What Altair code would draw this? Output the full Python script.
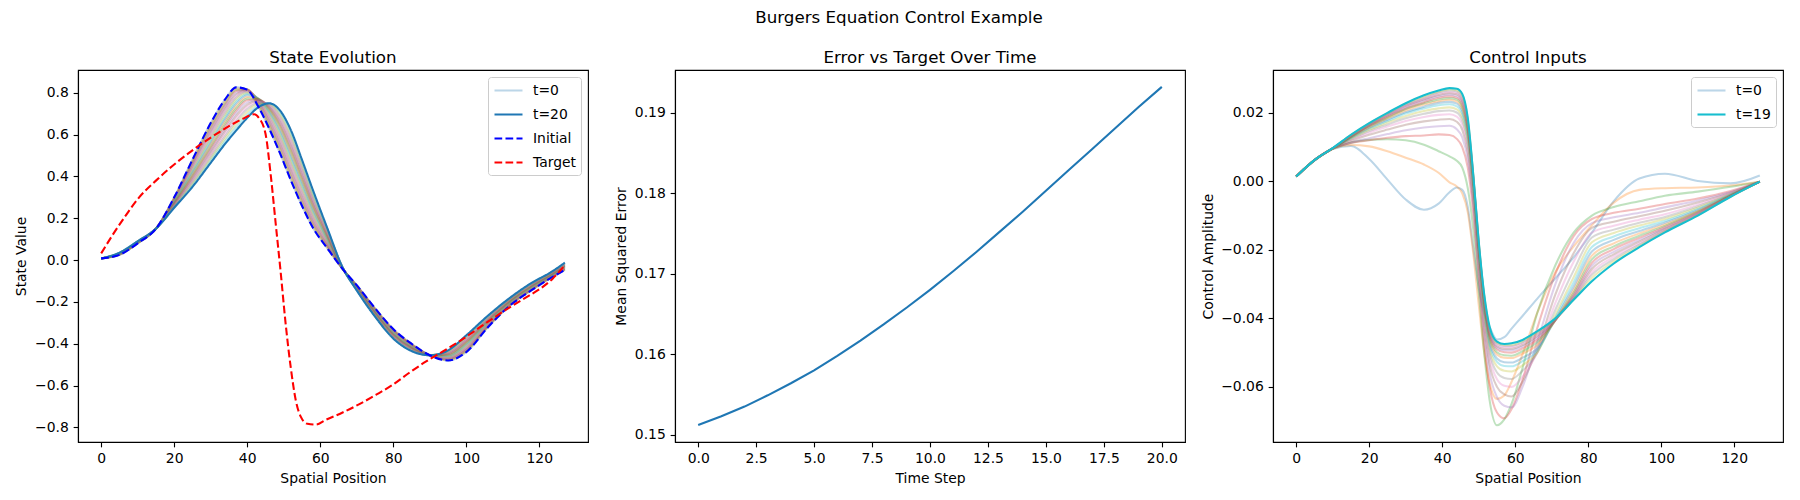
import altair as alt
import pandas as pd

FONT = "DejaVu Sans"
TAB10 = ["#1f77b4", "#ff7f0e", "#2ca02c", "#d62728", "#9467bd",
         "#8c564b", "#e377c2", "#7f7f7f", "#bcbd22", "#17becf"]

# ---------------- Panel 1: state evolution ----------------
X_STATE = [0, 5, 10, 15, 20, 25, 30, 34, 37, 40, 43, 46, 49, 52, 55, 58, 62, 66,
           70, 75, 80, 85, 90, 95, 100, 106, 112, 118, 123, 127]
STATE_T0 = [0.008, 0.025, 0.080, 0.150, 0.300, 0.480, 0.655, 0.770, 0.826, 0.815,
            0.735, 0.630, 0.510, 0.380, 0.260, 0.155, 0.055, -0.040, -0.120, -0.230,
            -0.330, -0.400, -0.455, -0.480, -0.440, -0.320, -0.217, -0.143, -0.087, -0.047]
STATE_T20 = [0.008, 0.035, 0.090, 0.150, 0.250, 0.350, 0.465, 0.557, 0.620, 0.680,
             0.730, 0.750, 0.715, 0.620, 0.480, 0.335, 0.150, -0.030, -0.145, -0.270,
             -0.375, -0.435, -0.455, -0.432, -0.360, -0.265, -0.180, -0.108, -0.060, -0.0125]
STATE_MID = [  # t = 1 .. 19
    [0.008, 0.026, 0.081, 0.150, 0.298, 0.474, 0.646, 0.761, 0.820, 0.816, 0.742, 0.641, 0.522, 0.392, 0.271, 0.164, 0.060, -0.040, -0.121, -0.232, -0.332, -0.402, -0.455, -0.478, -0.436, -0.317, -0.215, -0.141, -0.086, -0.045],
    [0.008, 0.026, 0.081, 0.150, 0.295, 0.467, 0.636, 0.752, 0.814, 0.816, 0.749, 0.651, 0.534, 0.404, 0.282, 0.173, 0.065, -0.039, -0.123, -0.234, -0.335, -0.404, -0.455, -0.475, -0.432, -0.315, -0.213, -0.140, -0.084, -0.044],
    [0.008, 0.027, 0.082, 0.150, 0.293, 0.461, 0.627, 0.743, 0.808, 0.815, 0.755, 0.661, 0.546, 0.416, 0.293, 0.181, 0.069, -0.039, -0.124, -0.236, -0.337, -0.405, -0.455, -0.473, -0.428, -0.312, -0.211, -0.138, -0.083, -0.042],
    [0.008, 0.027, 0.082, 0.150, 0.290, 0.454, 0.617, 0.734, 0.801, 0.814, 0.760, 0.670, 0.557, 0.428, 0.304, 0.190, 0.074, -0.038, -0.125, -0.238, -0.339, -0.407, -0.455, -0.470, -0.424, -0.309, -0.210, -0.136, -0.082, -0.040],
    [0.008, 0.028, 0.083, 0.150, 0.288, 0.448, 0.608, 0.724, 0.793, 0.811, 0.764, 0.679, 0.569, 0.440, 0.315, 0.199, 0.079, -0.038, -0.126, -0.240, -0.341, -0.409, -0.455, -0.468, -0.420, -0.306, -0.208, -0.134, -0.080, -0.038],
    [0.008, 0.028, 0.083, 0.150, 0.285, 0.441, 0.598, 0.715, 0.785, 0.808, 0.767, 0.687, 0.580, 0.452, 0.326, 0.208, 0.084, -0.037, -0.128, -0.242, -0.344, -0.411, -0.455, -0.466, -0.416, -0.304, -0.206, -0.133, -0.079, -0.037],
    [0.008, 0.029, 0.084, 0.150, 0.283, 0.435, 0.589, 0.705, 0.777, 0.804, 0.770, 0.695, 0.591, 0.464, 0.337, 0.216, 0.088, -0.037, -0.129, -0.244, -0.346, -0.412, -0.455, -0.463, -0.412, -0.301, -0.204, -0.131, -0.078, -0.035],
    [0.008, 0.029, 0.084, 0.150, 0.280, 0.428, 0.579, 0.694, 0.768, 0.799, 0.771, 0.702, 0.602, 0.476, 0.348, 0.225, 0.093, -0.036, -0.130, -0.246, -0.348, -0.414, -0.455, -0.461, -0.408, -0.298, -0.202, -0.129, -0.076, -0.033],
    [0.008, 0.030, 0.085, 0.150, 0.278, 0.422, 0.570, 0.684, 0.758, 0.794, 0.772, 0.709, 0.612, 0.488, 0.359, 0.234, 0.098, -0.036, -0.131, -0.248, -0.350, -0.416, -0.455, -0.458, -0.404, -0.295, -0.200, -0.127, -0.075, -0.031],
    [0.008, 0.030, 0.085, 0.150, 0.275, 0.415, 0.560, 0.674, 0.748, 0.788, 0.773, 0.715, 0.623, 0.500, 0.370, 0.243, 0.103, -0.035, -0.133, -0.250, -0.353, -0.418, -0.455, -0.456, -0.400, -0.293, -0.199, -0.126, -0.074, -0.030],
    [0.008, 0.031, 0.086, 0.150, 0.273, 0.409, 0.551, 0.663, 0.737, 0.780, 0.772, 0.721, 0.633, 0.512, 0.381, 0.251, 0.107, -0.035, -0.134, -0.252, -0.355, -0.419, -0.455, -0.454, -0.396, -0.290, -0.197, -0.124, -0.072, -0.028],
    [0.008, 0.031, 0.086, 0.150, 0.270, 0.402, 0.541, 0.652, 0.726, 0.772, 0.770, 0.726, 0.643, 0.524, 0.392, 0.260, 0.112, -0.034, -0.135, -0.254, -0.357, -0.421, -0.455, -0.451, -0.392, -0.287, -0.195, -0.122, -0.071, -0.026],
    [0.008, 0.032, 0.087, 0.150, 0.268, 0.396, 0.532, 0.641, 0.715, 0.764, 0.768, 0.731, 0.652, 0.536, 0.403, 0.269, 0.117, -0.034, -0.136, -0.256, -0.359, -0.423, -0.455, -0.449, -0.388, -0.284, -0.193, -0.120, -0.069, -0.025],
    [0.008, 0.032, 0.087, 0.150, 0.265, 0.389, 0.522, 0.629, 0.703, 0.754, 0.765, 0.735, 0.662, 0.548, 0.414, 0.278, 0.122, -0.033, -0.138, -0.258, -0.362, -0.425, -0.455, -0.446, -0.384, -0.282, -0.191, -0.119, -0.068, -0.023],
    [0.008, 0.033, 0.088, 0.150, 0.263, 0.383, 0.513, 0.618, 0.690, 0.744, 0.761, 0.739, 0.671, 0.560, 0.425, 0.286, 0.126, -0.033, -0.139, -0.260, -0.364, -0.426, -0.455, -0.444, -0.380, -0.279, -0.189, -0.117, -0.067, -0.021],
    [0.008, 0.033, 0.088, 0.150, 0.260, 0.376, 0.503, 0.606, 0.677, 0.733, 0.757, 0.742, 0.680, 0.572, 0.436, 0.295, 0.131, -0.032, -0.140, -0.262, -0.366, -0.428, -0.455, -0.442, -0.376, -0.276, -0.187, -0.115, -0.065, -0.019],
    [0.008, 0.034, 0.089, 0.150, 0.258, 0.370, 0.494, 0.594, 0.664, 0.721, 0.751, 0.745, 0.689, 0.584, 0.447, 0.304, 0.136, -0.032, -0.141, -0.264, -0.368, -0.430, -0.455, -0.439, -0.372, -0.273, -0.186, -0.113, -0.064, -0.018],
    [0.008, 0.034, 0.089, 0.150, 0.255, 0.363, 0.484, 0.582, 0.650, 0.708, 0.745, 0.747, 0.698, 0.596, 0.458, 0.313, 0.141, -0.031, -0.143, -0.266, -0.371, -0.432, -0.455, -0.437, -0.368, -0.271, -0.184, -0.112, -0.063, -0.016],
    [0.008, 0.035, 0.090, 0.150, 0.253, 0.357, 0.475, 0.570, 0.635, 0.694, 0.738, 0.749, 0.707, 0.608, 0.469, 0.321, 0.145, -0.031, -0.144, -0.268, -0.373, -0.433, -0.455, -0.434, -0.364, -0.268, -0.182, -0.110, -0.061, -0.014],
]
X_TARGET = [0, 3.5, 7, 10.4, 15, 19.5, 25, 29.5, 34, 38.7, 41.9, 43.2, 45, 46.4, 47.8,
            49.2, 50.5, 51.9, 53.3, 54.7, 56.5, 58.8, 61.5, 66, 70.6, 75.2, 79.8, 84.3,
            88.9, 93.5, 98, 102.6, 107.2, 111.7, 117.2, 120, 123.6, 127]
TARGET = [0.032, 0.13, 0.22, 0.30, 0.38, 0.45, 0.525, 0.58, 0.63, 0.675, 0.697, 0.68,
          0.605, 0.414, 0.175, -0.064, -0.30, -0.51, -0.67, -0.75, -0.783, -0.787, -0.764,
          -0.73, -0.69, -0.645, -0.597, -0.54, -0.486, -0.438, -0.39, -0.335, -0.28,
          -0.228, -0.17, -0.14, -0.09, -0.025]

# ---------------- Panel 2: error over time ----------------
MSE_STEPS = list(range(21))
MSE = [0.1512, 0.1523, 0.1535, 0.1549, 0.1564, 0.1580, 0.1598, 0.1617, 0.1637, 0.1658,
       0.1680, 0.1703, 0.1727, 0.1752, 0.1777, 0.1803, 0.1829, 0.1855, 0.1881, 0.1907,
       0.1932]

# ---------------- Panel 3: control inputs ----------------
X_CONTROL = [0, 5, 10, 15, 20, 25, 30, 35, 39, 42, 44, 45.5, 47, 48.5, 50, 51.5, 53, 55,
             57, 59, 62, 66, 71, 76, 81, 87, 94, 101, 110, 119, 127]
CONTROL = [  # t = 0 .. 19
    [0.0014, 0.0060, 0.0094, 0.0103, 0.0065, 0.0005, -0.0053, -0.0083, -0.0065, -0.0032, -0.0018, -0.0025, -0.0075, -0.0195, -0.0310, -0.0385, -0.0425, -0.0462, -0.0455, -0.0430, -0.0393, -0.0343, -0.0283, -0.0222, -0.0150, -0.0058, 0.0008, 0.0022, 0.0001, -0.0006, 0.0017],
    [0.0014, 0.0061, 0.0095, 0.0106, 0.0102, 0.0088, 0.0069, 0.0049, 0.0025, -0.0003, -0.0015, -0.0035, -0.0090, -0.0210, -0.0360, -0.0500, -0.0590, -0.0635, -0.0625, -0.0585, -0.0505, -0.0385, -0.0265, -0.0190, -0.0128, -0.0062, -0.0025, -0.0020, -0.0018, -0.0012, -0.0001],
    [0.0014, 0.0061, 0.0095, 0.0113, 0.0121, 0.0123, 0.0120, 0.0107, 0.0088, 0.0073, 0.0060, 0.0040, -0.0020, -0.0140, -0.0320, -0.0500, -0.0640, -0.0712, -0.0695, -0.0650, -0.0545, -0.0385, -0.0245, -0.0150, -0.0100, -0.0075, -0.0058, -0.0042, -0.0030, -0.0016, -0.0001],
    [0.0014, 0.0062, 0.0096, 0.0112, 0.0120, 0.0127, 0.0132, 0.0134, 0.0137, 0.0135, 0.0124, 0.0100, 0.0040, -0.0090, -0.0280, -0.0470, -0.0600, -0.0675, -0.0692, -0.0665, -0.0580, -0.0430, -0.0270, -0.0160, -0.0110, -0.0092, -0.0080, -0.0066, -0.0050, -0.0028, -0.0001],
    [0.0014, 0.0062, 0.0096, 0.0113, 0.0126, 0.0138, 0.0149, 0.0157, 0.0161, 0.0162, 0.0152, 0.0128, 0.0065, -0.0070, -0.0260, -0.0440, -0.0560, -0.0630, -0.0655, -0.0660, -0.0600, -0.0470, -0.0300, -0.0180, -0.0122, -0.0105, -0.0092, -0.0076, -0.0056, -0.0031, -0.0001],
    [0.0014, 0.0062, 0.0096, 0.0118, 0.0136, 0.0151, 0.0165, 0.0175, 0.0180, 0.0182, 0.0174, 0.0150, 0.0085, -0.0055, -0.0245, -0.0420, -0.0535, -0.0600, -0.0622, -0.0628, -0.0585, -0.0490, -0.0330, -0.0210, -0.0136, -0.0118, -0.0102, -0.0086, -0.0062, -0.0033, -0.0001],
    [0.0014, 0.0062, 0.0096, 0.0121, 0.0142, 0.0160, 0.0176, 0.0188, 0.0194, 0.0196, 0.0189, 0.0165, 0.0100, -0.0042, -0.0233, -0.0405, -0.0515, -0.0578, -0.0597, -0.0600, -0.0570, -0.0500, -0.0355, -0.0235, -0.0150, -0.0130, -0.0112, -0.0096, -0.0068, -0.0035, -0.0001],
    [0.0014, 0.0062, 0.0096, 0.0123, 0.0147, 0.0166, 0.0184, 0.0197, 0.0205, 0.0207, 0.0201, 0.0178, 0.0112, -0.0031, -0.0224, -0.0392, -0.0500, -0.0558, -0.0574, -0.0577, -0.0553, -0.0502, -0.0375, -0.0260, -0.0164, -0.0141, -0.0121, -0.0104, -0.0073, -0.0037, -0.0001],
    [0.0014, 0.0062, 0.0096, 0.0125, 0.0151, 0.0172, 0.0191, 0.0205, 0.0213, 0.0216, 0.0210, 0.0188, 0.0122, -0.0022, -0.0216, -0.0382, -0.0488, -0.0540, -0.0553, -0.0555, -0.0537, -0.0500, -0.0390, -0.0280, -0.0178, -0.0151, -0.0129, -0.0110, -0.0077, -0.0038, -0.0001],
    [0.0014, 0.0062, 0.0096, 0.0127, 0.0154, 0.0176, 0.0198, 0.0213, 0.0222, 0.0225, 0.0219, 0.0197, 0.0131, -0.0014, -0.0209, -0.0373, -0.0478, -0.0527, -0.0539, -0.0540, -0.0525, -0.0495, -0.0398, -0.0295, -0.0192, -0.0161, -0.0137, -0.0116, -0.0081, -0.0039, -0.0001],
    [0.0014, 0.0062, 0.0096, 0.0128, 0.0157, 0.0180, 0.0202, 0.0218, 0.0229, 0.0232, 0.0227, 0.0205, 0.0139, -0.0007, -0.0203, -0.0366, -0.0470, -0.0517, -0.0528, -0.0529, -0.0515, -0.0488, -0.0403, -0.0308, -0.0205, -0.0171, -0.0145, -0.0121, -0.0084, -0.0040, -0.0001],
    [0.0014, 0.0062, 0.0096, 0.0129, 0.0158, 0.0184, 0.0207, 0.0224, 0.0234, 0.0238, 0.0233, 0.0212, 0.0146, -0.0001, -0.0198, -0.0360, -0.0462, -0.0506, -0.0515, -0.0516, -0.0503, -0.0478, -0.0405, -0.0318, -0.0217, -0.0181, -0.0152, -0.0126, -0.0087, -0.0041, -0.0001],
    [0.0014, 0.0062, 0.0096, 0.0130, 0.0161, 0.0186, 0.0211, 0.0228, 0.0239, 0.0243, 0.0239, 0.0218, 0.0152, 0.0004, -0.0194, -0.0354, -0.0456, -0.0499, -0.0508, -0.0509, -0.0496, -0.0470, -0.0406, -0.0325, -0.0228, -0.0190, -0.0159, -0.0130, -0.0089, -0.0042, -0.0001],
    [0.0014, 0.0062, 0.0096, 0.0131, 0.0163, 0.0189, 0.0213, 0.0231, 0.0244, 0.0248, 0.0244, 0.0225, 0.0158, 0.0008, -0.0190, -0.0349, -0.0450, -0.0491, -0.0499, -0.0500, -0.0488, -0.0463, -0.0406, -0.0331, -0.0238, -0.0198, -0.0165, -0.0134, -0.0091, -0.0042, -0.0001],
    [0.0014, 0.0062, 0.0096, 0.0132, 0.0164, 0.0192, 0.0217, 0.0236, 0.0248, 0.0253, 0.0249, 0.0231, 0.0163, 0.0011, -0.0187, -0.0345, -0.0445, -0.0486, -0.0493, -0.0493, -0.0482, -0.0457, -0.0405, -0.0335, -0.0247, -0.0206, -0.0171, -0.0137, -0.0093, -0.0043, -0.0001],
    [0.0014, 0.0062, 0.0096, 0.0133, 0.0165, 0.0193, 0.0220, 0.0239, 0.0252, 0.0257, 0.0254, 0.0236, 0.0168, 0.0014, -0.0184, -0.0341, -0.0441, -0.0482, -0.0489, -0.0489, -0.0478, -0.0452, -0.0404, -0.0339, -0.0256, -0.0213, -0.0176, -0.0140, -0.0095, -0.0043, -0.0001],
    [0.0014, 0.0062, 0.0096, 0.0134, 0.0167, 0.0195, 0.0221, 0.0241, 0.0256, 0.0261, 0.0258, 0.0241, 0.0172, 0.0016, -0.0181, -0.0338, -0.0437, -0.0478, -0.0484, -0.0484, -0.0473, -0.0448, -0.0403, -0.0341, -0.0265, -0.0220, -0.0181, -0.0143, -0.0096, -0.0044, -0.0001],
    [0.0014, 0.0062, 0.0096, 0.0135, 0.0167, 0.0197, 0.0224, 0.0245, 0.0259, 0.0265, 0.0262, 0.0246, 0.0176, 0.0018, -0.0179, -0.0335, -0.0433, -0.0474, -0.0480, -0.0480, -0.0470, -0.0444, -0.0402, -0.0343, -0.0273, -0.0227, -0.0185, -0.0145, -0.0097, -0.0044, -0.0001],
    [0.0014, 0.0062, 0.0096, 0.0135, 0.0169, 0.0198, 0.0227, 0.0248, 0.0262, 0.0269, 0.0266, 0.0251, 0.0181, 0.0019, -0.0177, -0.0332, -0.0429, -0.0471, -0.0477, -0.0477, -0.0466, -0.0441, -0.0401, -0.0345, -0.0282, -0.0234, -0.0189, -0.0147, -0.0099, -0.0045, -0.0001],
    [0.0014, 0.0062, 0.0097, 0.0136, 0.0170, 0.0200, 0.0228, 0.0251, 0.0265, 0.0272, 0.0270, 0.0255, 0.0185, 0.0020, -0.0175, -0.0330, -0.0425, -0.0468, -0.0475, -0.0473, -0.0463, -0.0438, -0.0400, -0.0346, -0.0292, -0.0240, -0.0192, -0.0149, -0.0100, -0.0045, -0.0001],
]

# ---------------- styling constants ----------------
LW = 2.08
DASH = [7.7, 3.3]
LIGHT_BLUE = "#bcd6e8"   # tab:blue at alpha 0.3 on white


def series_df(xs, ys, name, t=0, color=None):
    return pd.DataFrame({"x": xs, "v": ys, "series": name, "t": t,
                         "col": color if color else "#000000"})


def legend_obj():
    return alt.Legend(title=None, orient="top-right", offset=7,
                      symbolType="M-1,0H3", symbolSize=196, symbolStrokeWidth=LW,
                      labelFontSize=13.9, labelFont=FONT, labelColor="black",
                      labelOffset=23, rowPadding=8, padding=5,
                      fillColor="rgba(255,255,255,0.8)", strokeColor="#cccccc",
                      cornerRadius=3)


# ---- panel 1 ----
p1_x = alt.X("x:Q", scale=alt.Scale(domain=[-6.35, 133.35], nice=False, zero=False),
             axis=alt.Axis(title="Spatial Position", values=[0, 20, 40, 60, 80, 100, 120], format="d"))
p1_y = alt.Y("v:Q", scale=alt.Scale(domain=[-0.870, 0.909], nice=False, zero=False),
             axis=alt.Axis(title="State Value",
                           values=[-0.8, -0.6, -0.4, -0.2, 0.0, 0.2, 0.4, 0.6, 0.8], format=".1f"))
P1_DOMAIN = ["t=0", "t=20", "Initial", "Target"]
p1_color = alt.Color("series:N", scale=alt.Scale(domain=P1_DOMAIN,
                     range=[LIGHT_BLUE, "#1f77b4", "#0000ff", "#ff0000"]), legend=legend_obj())
p1_dash = alt.StrokeDash("series:N", scale=alt.Scale(domain=P1_DOMAIN,
                         range=[[1, 0], [1, 0], DASH, DASH]), legend=legend_obj())

mid_frames = [series_df(X_STATE, row, "mid", i + 1, TAB10[(i + 1) % 10])
              for i, row in enumerate(STATE_MID)]
state_mid_df = pd.concat(mid_frames, ignore_index=True)


def legend_line(df):
    return alt.Chart(df).mark_line(strokeWidth=LW, interpolate="monotone").encode(
        x=p1_x, y=p1_y, color=p1_color, strokeDash=p1_dash)


l_t0 = legend_line(series_df(X_STATE, STATE_T0, "t=0"))
l_mid = alt.Chart(state_mid_df).mark_line(strokeWidth=LW, opacity=0.3, interpolate="monotone").encode(
    x=p1_x, y=p1_y, stroke=alt.Stroke("col:N", scale=None), detail="t:N")
l_t20 = legend_line(series_df(X_STATE, STATE_T20, "t=20"))
l_init = legend_line(series_df(X_STATE, STATE_T0, "Initial"))
l_targ = legend_line(series_df(X_TARGET, TARGET, "Target"))

panel1 = alt.layer(l_t0, l_mid, l_t20, l_init, l_targ).properties(
    width=510, height=372, title="State Evolution")

# ---- panel 2 ----
mse_df = pd.DataFrame({"step": MSE_STEPS, "mse": MSE})
panel2 = alt.Chart(mse_df).mark_line(strokeWidth=LW, color="#1f77b4").encode(
    x=alt.X("step:Q", scale=alt.Scale(domain=[-1, 21], nice=False, zero=False),
            axis=alt.Axis(title="Time Step",
                          values=[0, 2.5, 5, 7.5, 10, 12.5, 15, 17.5, 20], format=".1f")),
    y=alt.Y("mse:Q", scale=alt.Scale(domain=[0.1491, 0.1953], nice=False, zero=False),
            axis=alt.Axis(title="Mean Squared Error",
                          values=[0.15, 0.16, 0.17, 0.18, 0.19], format=".2f")),
).properties(width=510, height=372, title="Error vs Target Over Time")

# ---- panel 3 ----
p3_x = alt.X("x:Q", scale=alt.Scale(domain=[-6.35, 133.35], nice=False, zero=False),
             axis=alt.Axis(title="Spatial Position", values=[0, 20, 40, 60, 80, 100, 120], format="d"))
p3_y = alt.Y("v:Q", scale=alt.Scale(domain=[-0.0761, 0.0325], nice=False, zero=False),
             axis=alt.Axis(title="Control Amplitude",
                           values=[-0.06, -0.04, -0.02, 0.0, 0.02], format=".2f"))
P3_DOMAIN = ["t=0", "t=19"]
p3_color = alt.Color("series:N", scale=alt.Scale(domain=P3_DOMAIN, range=[LIGHT_BLUE, "#17becf"]),
                     legend=legend_obj())

ctrl_mid_df = pd.concat([series_df(X_CONTROL, CONTROL[t], "mid", t, TAB10[t % 10])
                         for t in range(1, 19)], ignore_index=True)

c_t0 = alt.Chart(series_df(X_CONTROL, CONTROL[0], "t=0")).mark_line(
    strokeWidth=LW, interpolate="monotone").encode(x=p3_x, y=p3_y, color=p3_color)
c_mid = alt.Chart(ctrl_mid_df).mark_line(strokeWidth=LW, opacity=0.3, interpolate="monotone").encode(
    x=p3_x, y=p3_y, stroke=alt.Stroke("col:N", scale=None), detail="t:N")
c_t19 = alt.Chart(series_df(X_CONTROL, CONTROL[19], "t=19")).mark_line(
    strokeWidth=LW, interpolate="monotone").encode(x=p3_x, y=p3_y, color=p3_color)

panel3 = alt.layer(c_t0, c_mid, c_t19).properties(width=510, height=372, title="Control Inputs")

# ---- assemble ----
inner = alt.hconcat(panel1, panel2, spacing=25).resolve_scale(
    color="independent", strokeDash="independent", stroke="independent")
chart = alt.hconcat(inner, panel3, spacing=14).resolve_scale(
    color="independent", strokeDash="independent", stroke="independent"
).properties(
    title=alt.TitleParams("Burgers Equation Control Example", fontSize=16.7, fontWeight="normal",
                          font=FONT, anchor="middle", color="black", offset=23),
    padding={"left": 6, "top": 2, "right": 8, "bottom": 4},
).configure_view(
    stroke="black", strokeWidth=1.11
).configure_axis(
    grid=False, domainColor="black", domainWidth=1.11, tickColor="black", tickWidth=1.11,
    tickSize=4.86, labelPadding=4.86, labelFont=FONT, labelFontSize=13.9, labelColor="black",
    titleFont=FONT, titleFontSize=13.9, titleFontWeight="normal", titleColor="black",
    titlePadding=5.56, labelFlush=False, labelOverlap=False
).configure_title(
    font=FONT, fontSize=16.7, fontWeight="normal", color="black", offset=3, anchor="middle"
)

chart.save("out.html", embed_options={"renderer": "svg", "actions": False})
